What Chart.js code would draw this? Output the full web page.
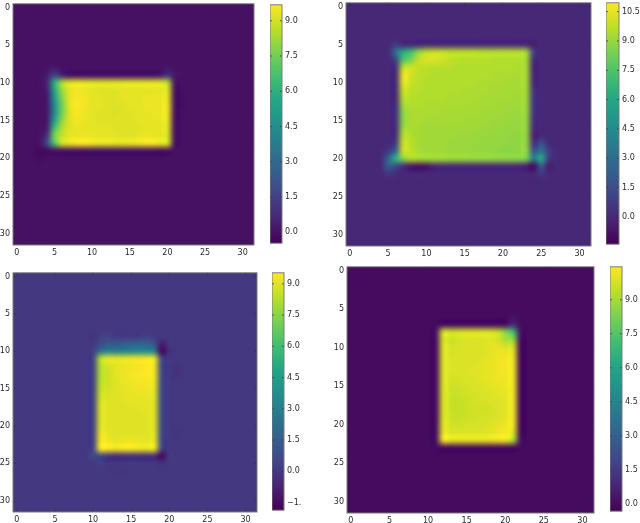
<!DOCTYPE html>
<html><head><meta charset="utf-8">
<style>html,body{margin:0;padding:0;background:#fff;width:640px;height:523px;overflow:hidden}canvas{position:absolute}</style>
<script src="https://cdn.jsdelivr.net/npm/chart.js@4"></script>
</head><body>
<script>
// ---------- colour map and axis ticks ----------
const viridisStops = ['#440154','#482475','#414487','#355f8d','#2a788e','#21918c','#22a884','#44bf70','#7ad151','#bddf26','#fde725'];
const axisTicks = [0,5,10,15,20,25,30];
const cbTicksA = [0,1.5,3,4.5,6,7.5,9];
const cbLabelsA = ['0.0','1.5','3.0','4.5','6.0','7.5','9.0'];
const cbTicksB = [0,1.5,3,4.5,6,7.5,9,10.5];
const cbLabelsB = ['0.0','1.5','3.0','4.5','6.0','7.5','9.0','10.5'];
const cbTicksC = [-1.5,0,1.5,3,4.5,6,7.5,9];
const cbLabelsC = ['\u22121.','0.0','1.5','3.0','4.5','6.0','7.5','9.0'];
const cbTicksD = [0,1.5,3,4.5,6,7.5,9];
const cbLabelsD = ['0.0','1.5','3.0','4.5','6.0','7.5','9.0'];
const rangeA = [-0.47,9.68], rangeB = [-1.4,10.95], rangeC = [-1.87,9.53], rangeD = [-0.32,10.45];
const backgroundA = 0, backgroundB = 0, backgroundC = 0, backgroundD = 0;

// ---------- cell values: [row, first column, values...] on a flat background ----------
const patchA = [
[8,5,0.2],[8,20,0.2],
[9,4,0.3,1.7,0.5],[9,19,0.2,1.0,0.2],
[10,4,0.5,5.8,8.4,9.2,9.4,9.3,9.2,9.2,9.2,9.2,9.2,9.3,9.3,9.3,9.3,9.3,8.6,0.1],
[11,4,0.3,5.4,8.1,9.3,9.5,9.4,9.3,9.2,9.2,9.2,9.3,9.3,9.3,9.3,9.3,9.3,9.2],
[12,4,0.2,4.8,7.7,9.3,9.6,9.5,9.3,9.3,9.2,9.2,9.3,9.3,9.3,9.4,9.4,9.4,9.3],
[13,4,0.2,4.2,7.4,9.3,9.7,9.5,9.3,9.3,9.2,9.2,9.2,9.3,9.3,9.4,9.4,9.4,9.4],
[14,4,0.2,4.3,7.5,9.2,9.6,9.4,9.3,9.2,9.2,9.1,9.2,9.2,9.3,9.3,9.4,9.4,9.4],
[15,4,0.2,5.2,7.9,9.2,9.5,9.4,9.3,9.2,9.2,9.2,9.2,9.2,9.3,9.3,9.3,9.4,9.3],
[16,4,0.3,6.6,8.5,9.2,9.4,9.3,9.3,9.3,9.3,9.2,9.2,9.2,9.2,9.3,9.3,9.3,9.2],
[17,4,1.0,7.6,8.8,9.3,9.4,9.4,9.4,9.3,9.3,9.3,9.2,9.2,9.3,9.4,9.4,9.3,9.1],
[18,4,1.7,6.8,9.0,9.3,9.6,9.7,9.5,9.4,9.4,9.3,9.3,9.4,9.4,9.6,9.7,9.4,9.0],
[19,3,-0.25,-0.2],[20,3,-0.2],[19,19,-0.15],[12,22,-0.1],[13,22,-0.1]
];
const patchB = [
[5,6,0.7],[5,24,-0.4],
[6,6,3.2,6.3,7.2,8.9,9.6,9.9,9.9,9.7,9.7,9.7,9.7,9.6,9.6,9.6,9.6,9.6,9.6,9.3,0.9],
[7,6,1.0,7.5,8.4,9.9,10.3,10.3,10.1,9.8,9.7,9.6,9.6,9.6,9.6,9.5,9.5,9.5,9.5,9.3,0.2],
[8,6,0.3,9.7,10.1,9.8,9.7,9.6,9.6,9.6,9.5,9.5,9.5,9.5,9.5,9.5,9.5,9.5,9.4,9.3,-0.2],
[9,6,0.2,10.7,10.1,9.7,9.6,9.5,9.5,9.5,9.5,9.5,9.5,9.5,9.5,9.4,9.4,9.4,9.4,9.3,-0.1],
[10,6,0.2,10.5,9.9,9.7,9.5,9.5,9.5,9.5,9.5,9.5,9.5,9.4,9.4,9.4,9.4,9.3,9.3,9.3],
[11,6,0.1,10.0,9.7,9.6,9.5,9.5,9.5,9.5,9.5,9.4,9.4,9.4,9.4,9.3,9.3,9.3,9.3,9.2,0.4],
[12,6,0.1,9.6,9.6,9.5,9.5,9.5,9.5,9.4,9.4,9.4,9.4,9.4,9.3,9.3,9.3,9.3,9.2,9.2,0.5],
[13,6,0.2,9.2,9.5,9.5,9.4,9.4,9.4,9.4,9.4,9.4,9.3,9.3,9.3,9.3,9.2,9.2,9.2,9.1,0.5],
[14,6,0.3,8.8,9.4,9.4,9.4,9.4,9.3,9.3,9.3,9.3,9.3,9.3,9.2,9.2,9.2,9.1,9.1,9.1,0.4],
[15,6,0.3,8.8,9.4,9.4,9.3,9.3,9.3,9.3,9.3,9.3,9.2,9.2,9.2,9.1,9.1,9.1,9.0,9.0,0.3],
[16,6,0.2,9.1,9.4,9.3,9.2,9.2,9.2,9.2,9.2,9.2,9.2,9.1,9.1,9.1,9.0,9.0,9.0,9.0,0.1],
[17,6,0.3,9.6,9.5,9.3,9.2,9.2,9.2,9.2,9.1,9.1,9.1,9.1,9.0,9.0,9.0,8.9,8.9,8.9,-0.2],
[18,6,0.8,10.0,9.6,9.3,9.2,9.2,9.2,9.1,9.1,9.1,9.1,9.0,9.0,9.0,8.9,8.9,8.9,8.9,0.3,1.6],
[19,5,0.5,2.6,10.1,9.7,9.4,9.2,9.2,9.2,9.1,9.1,9.1,9.0,9.0,9.0,8.9,8.8,8.8,8.9,9.0,1.8,3.4,0.8],
[20,5,2.6,6.6,8.7,9.5,9.3,9.2,9.2,9.2,9.1,9.1,9.1,9.0,9.0,9.0,8.9,8.9,8.8,8.8,8.5,3.6,6.2,0.6],
[21,5,2.2,1.4,0.2,-0.7,-0.9,-0.8,-0.2],[21,23,-0.4,-1.2,2.0,-0.4],
[22,5,0.5,0.1],[22,25,0.6],[23,24,-0.2]
];
const patchC = [
[8,10,-0.2,0.3,0.3],[8,17,0.3],
[9,11,0.7,1.2,1.2,1.4,1.6,1.7,1.6,1.1,-1.0],
[10,10,0.2,2.4,3.2,3.0,3.2,3.4,3.5,3.5,3.0,-1.7,-0.4],
[11,10,0.3,8.3,9.2,9.1,9.2,9.3,9.3,9.4,9.2,0.5],
[12,10,0.3,8.2,8.8,9.1,9.2,9.3,9.4,9.5,9.3,0.5,0,-0.3],
[13,10,0.3,8.2,8.7,9.1,9.2,9.4,9.5,9.5,9.3,0.6,0,-0.3],
[14,10,0.3,8.3,8.7,9.0,9.2,9.3,9.4,9.4,9.2,0.6],
[15,10,0.3,8.5,8.8,9.0,9.1,9.2,9.3,9.3,9.1,0.6],
[16,10,0.3,8.7,8.9,9.0,9.1,9.1,9.1,9.2,9.0,0.6],
[17,10,0.3,8.9,9.0,9.0,9.0,9.1,9.1,9.1,9.0,0.7],
[18,10,0.3,9.0,9.0,9.0,9.0,9.0,9.0,9.1,9.0,0.7],
[19,10,0.3,9.0,9.0,9.0,9.0,9.0,9.0,9.0,9.0,0.7],
[20,10,0.3,9.0,9.0,9.0,9.0,9.0,9.0,9.0,9.0,0.7],
[21,10,0.3,9.2,9.1,9.0,9.0,9.0,9.0,9.0,9.0,0.6,0,-0.2],
[22,10,0.3,9.4,9.3,9.1,9.2,9.3,9.2,9.1,9.1,0.5],
[23,10,0.4,9.5,9.5,9.3,9.5,9.5,9.3,9.2,9.2,0.4],
[24,10,0.6,0.4,-0.1,-0.4,-0.3,-0.3,-0.3,-0.4,-0.3,-1.7,0.1],
[25,11,0.3,-0.2],[25,19,-0.3],[26,13,-0.1,-0.1]
];
const patchD = [
[7,21,1.0],[6,21,0.2],
[8,11,0.2,9.8,9.7,9.8,9.9,9.9,9.9,9.9,9.6,8.6,7.2,0.2],
[9,11,0.1,9.8,9.6,9.8,9.9,9.9,9.9,10.0,9.8,9.1,8.8],
[10,11,0.1,9.9,9.8,9.8,9.9,9.9,9.9,10.0,10.1,9.9,9.8],
[11,11,0.1,9.9,9.8,9.9,9.9,9.9,9.9,10.0,10.2,10.2,10.1],
[12,11,0.1,9.9,9.9,9.9,9.9,9.9,10.0,10.1,10.2,10.3,10.2],
[13,11,0.1,9.9,9.9,9.9,9.9,10.0,10.0,10.1,10.2,10.3,10.2],
[14,11,0.1,9.9,9.8,9.8,9.9,9.9,10.0,10.1,10.2,10.2,10.2],
[15,11,0.1,9.9,9.7,9.7,9.8,9.9,9.9,10.0,10.1,10.2,10.2],
[16,11,0.1,9.9,9.6,9.6,9.7,9.8,9.9,9.9,10.0,10.1,10.2],
[17,11,0.1,9.9,9.5,9.5,9.6,9.8,9.8,9.9,9.9,10.0,10.2],
[18,11,0.1,9.9,9.5,9.5,9.6,9.7,9.7,9.7,9.9,10.0,10.2],
[19,11,0.1,9.9,9.6,9.5,9.6,9.7,9.8,9.8,9.9,10.0,10.2],
[20,11,0.1,10.0,9.7,9.7,9.8,9.8,9.8,9.9,10.0,10.2,10.2],
[21,11,0.1,10.1,9.9,9.9,9.9,9.9,9.9,10.0,10.2,10.4,9.9],
[22,11,0.2,10.3,10.1,10.1,10.1,10.1,10.1,10.1,10.2,10.3,9.2,0.2]
];

// ---------- drawing helpers ----------
const hexRgb = h => [1,3,5].map(i => parseInt(h.substr(i,2),16));
function viridis(t){
  t = Math.max(0,Math.min(1,t));
  const p = t*(viridisStops.length-1), i = Math.min(Math.floor(p),viridisStops.length-2), f = p-i;
  const a = hexRgb(viridisStops[i]), b = hexRgb(viridisStops[i+1]);
  return a.map((c,k)=>Math.round(c+(b[k]-c)*f));
}
const rgb = c => `rgb(${c[0]},${c[1]},${c[2]})`;
const tickFont = {family:'"DejaVu Sans"',size:8};
const tickColor = '#2a2a2a';
const frameColor = '#7a7a7a';

function cellsFrom(patch,bg){
  const m = new Map();
  patch.forEach(r => r.slice(2).forEach((v,i)=>m.set(r[0]*32+r[1]+i,v)));
  const pts = [];
  for(let y=0;y<32;y++) for(let x=0;x<32;x++){
    const k = y*32+x;
    pts.push({x,y,v:m.has(k)?m.get(k):bg});
  }
  return pts;
}
function frame(chart,scaleTicks,len){
  const {ctx,chartArea:a} = chart;
  ctx.save();
  ctx.strokeStyle = '#333'; ctx.lineWidth = 0.8;
  scaleTicks.forEach(s=>{
    s.ticks.forEach((t,i)=>{
      const p = s.getPixelForTick(i);
      ctx.beginPath();
      if(s.isHorizontal()){
        ctx.moveTo(p,a.top);ctx.lineTo(p,a.top+len);
        ctx.moveTo(p,a.bottom);ctx.lineTo(p,a.bottom-len);
      }else{
        ctx.moveTo(a.left,p);ctx.lineTo(a.left+len,p);
        ctx.moveTo(a.right,p);ctx.lineTo(a.right-len,p);
      }
      ctx.stroke();
    });
  });
  ctx.strokeStyle = frameColor; ctx.lineWidth = 1;
  ctx.strokeRect(a.left,a.top,a.width,a.height);
  ctx.restore();
}
function addCanvas(l,t,w,h){
  const c = document.createElement('canvas');
  c.width=w;c.height=h;c.style.left=l+'px';c.style.top=t+'px';c.style.width=w+'px';c.style.height=h+'px';
  document.body.appendChild(c);
  return c;
}
function heatmap(box,patch,bg,range){
  const PADL=24,PADB=18,PAD=6;
  const [L,T,W,H] = box;
  const pts = cellsFrom(patch,bg);
  const colorOf = v => viridis((v-range[0])/(range[1]-range[0]));
  const smooth = {id:'smooth',afterDatasetsDraw(chart){
    const off = document.createElement('canvas');off.width=32;off.height=32;
    const oc = off.getContext('2d'),img = oc.createImageData(32,32);
    pts.forEach(p=>{const c=colorOf(p.v),k=(p.y*32+p.x)*4;img.data[k]=c[0];img.data[k+1]=c[1];img.data[k+2]=c[2];img.data[k+3]=255;});
    oc.putImageData(img,0,0);
    const {ctx,scales:{x,y}} = chart;
    const x0=x.getPixelForValue(-0.5),x1=x.getPixelForValue(31.5),y0=y.getPixelForValue(-0.5),y1=y.getPixelForValue(31.5);
    ctx.save();ctx.imageSmoothingEnabled=true;ctx.imageSmoothingQuality='high';
    ctx.drawImage(off,x0,y0,x1-x0,y1-y0);ctx.restore();
    frame(chart,[x,y],2.5);
  }};
  const axis = (extra)=>Object.assign({type:'linear',min:-0.5,max:31.5,
    grid:{display:false,drawTicks:false},border:{display:false},
    afterBuildTicks:s=>{s.ticks=axisTicks.map(value=>({value}));},
    ticks:{font:tickFont,color:tickColor,padding:3,autoSkip:false,maxRotation:0,callback:v=>String(v)}},extra);
  new Chart(addCanvas(L-PADL,T-PAD,W+PADL+PAD,H+PAD+PADB),{
    type:'scatter',
    data:{datasets:[{data:pts,pointStyle:'rect',borderWidth:0,
      backgroundColor:pts.map(p=>rgb(colorOf(p.v))),
      pointRadius:c=>c.chart.chartArea?c.chart.chartArea.width/32*0.75:5}]},
    options:{responsive:false,animation:false,devicePixelRatio:1,
      layout:{padding:{top:PAD,right:PAD,left:0,bottom:0}},
      plugins:{legend:{display:false},tooltip:{enabled:false}},events:[],
      scales:{
        x:axis({position:'bottom',afterFit:s=>{s.height=PADB;}}),
        y:axis({position:'left',reverse:true,afterFit:s=>{s.width=PADL;}})
      }},
    plugins:[smooth]
  });
}
function colorbar(box,range,ticks,labels){
  const PADR=34,PAD=6;
  const [L,T,W,H] = box;
  const fill = c=>{
    const {chart} = c, y = chart.scales.y, a = chart.chartArea;
    if(!y || !a || !isFinite(a.top) || !isFinite(a.bottom) || a.bottom<=a.top) return '#888';
    const g = chart.ctx.createLinearGradient(0,y.getPixelForValue(range[0]),0,y.getPixelForValue(range[1]));
    viridisStops.forEach((s,i)=>g.addColorStop(i/(viridisStops.length-1),s));
    return g;
  };
  new Chart(addCanvas(L,T-PAD,W+PADR,H+2*PAD),{
    type:'bar',
    data:{labels:['scale'],datasets:[{data:[range],backgroundColor:fill,barPercentage:1,categoryPercentage:1,borderWidth:0}]},
    options:{responsive:false,animation:false,devicePixelRatio:1,
      layout:{padding:{top:PAD,bottom:PAD,left:0,right:0}},
      plugins:{legend:{display:false},tooltip:{enabled:false}},events:[],
      scales:{
        x:{display:false},
        y:{type:'linear',position:'right',min:range[0],max:range[1],
          grid:{display:false,drawTicks:false},border:{display:false},
          afterBuildTicks:s=>{s.ticks=ticks.map(value=>({value}));},
          afterFit:s=>{s.width=PADR;},
          ticks:{font:tickFont,color:tickColor,padding:3,autoSkip:false,
            callback:v=>labels[ticks.indexOf(v)]}}
      }},
    plugins:[{id:'cbFrame',afterDatasetsDraw(chart){frame(chart,[chart.scales.y],2);}}]
  });
}
heatmap([13,2,241,243],patchA,backgroundA,rangeA);
colorbar([270,3,12,242],rangeA,cbTicksA,cbLabelsA);
heatmap([346,1,245,245],patchB,backgroundB,rangeB);
colorbar([606,1,13,245],rangeB,cbTicksB,cbLabelsB);
heatmap([13,271,244,241],patchC,backgroundC,rangeC);
colorbar([272,271,12,241],rangeC,cbTicksC,cbLabelsC);
heatmap([347,265,247,248],patchD,backgroundD,rangeD);
colorbar([610,265,12,248],rangeD,cbTicksD,cbLabelsD);
</script>
</body></html>
